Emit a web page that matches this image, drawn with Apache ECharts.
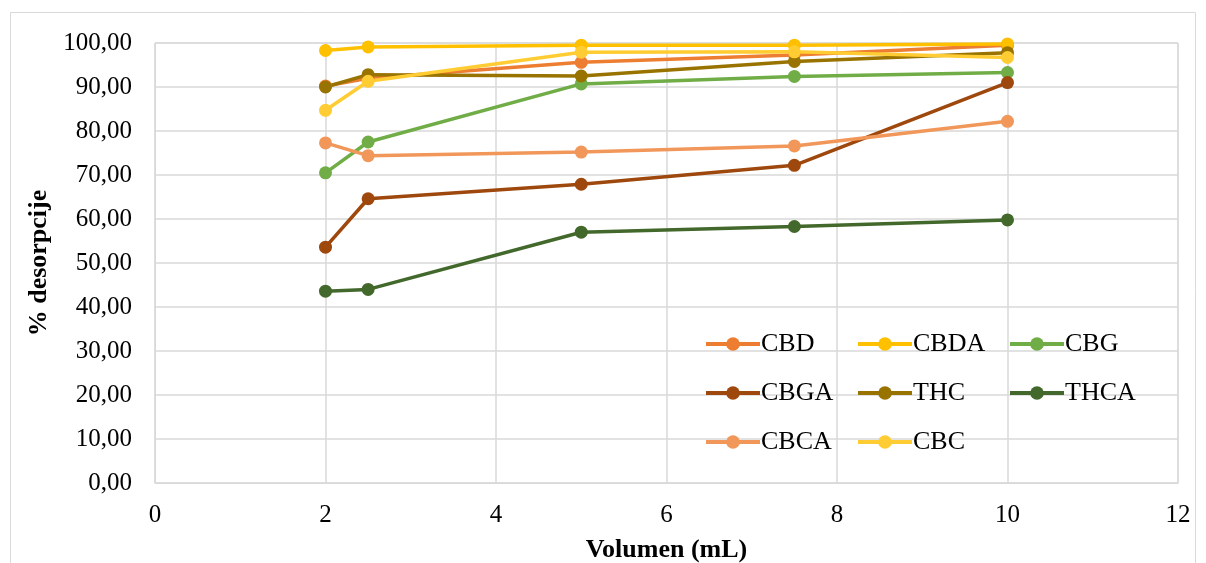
<!DOCTYPE html>
<html><head><meta charset="utf-8">
<script src="https://cdn.jsdelivr.net/npm/echarts@6/dist/echarts.min.js"></script>
<style>html,body{margin:0;padding:0;background:#fff}#c{width:1206px;height:563px}</style>
</head><body><div id="c"></div>
<script>
const xValues = [2, 2.5, 5, 7.5, 10];
const seriesNames = ['CBD','CBDA','CBG','CBGA','THC','THCA','CBCA','CBC'];
const CBD  = [90.2, 92.0, 95.6, 97.3, 99.5];
const CBDA = [98.3, 99.1, 99.5, 99.5, 99.8];
const CBG  = [70.5, 77.5, 90.7, 92.4, 93.3];
const CBGA = [53.6, 64.6, 67.9, 72.2, 91.0];
const THC  = [90.0, 92.8, 92.5, 95.8, 97.8];
const THCA = [43.6, 44.0, 57.0, 58.3, 59.8];
const CBCA = [77.3, 74.4, 75.2, 76.6, 82.2];
const CBC  = [84.7, 91.3, 97.9, 98.0, 96.7];
const seriesValues = [CBD, CBDA, CBG, CBGA, THC, THCA, CBCA, CBC];
const colors = ['#ED7D31','#FFC000','#70AD47','#9E480E','#997300','#43682B','#F1975A','#FFCD33'];

const font = '"Liberation Serif","Times New Roman",serif';
const chart = echarts.init(document.getElementById('c'));
const legendCols = [['CBD','CBGA','CBCA'],['CBDA','THC','CBC'],['CBG','THCA']];
const legendLeft = [704, 856, 1008];
chart.setOption({
  animation: false,
  graphic: [{type:'rect', shape:{x:10.5,y:12.5,width:1185,height:560}, style:{fill:'none', stroke:'#d9d9d9', lineWidth:1}}],
  grid: {left:155, top:43, right:28, bottom:80, show:true, borderColor:'#d9d9d9', borderWidth:1, outerBoundsMode:'none', containLabel:false},
  legend: legendCols.map((d,i)=>({
    data: d, orient:'vertical', left: legendLeft[i], top: 331, itemGap: 23,
    itemWidth: 54, itemHeight: 17, padding: 0,
    lineStyle: {width: 4},
    textStyle: {fontFamily: font, fontSize: 26, color:'#000', padding:[0,0,0,-4]}
  })),
  xAxis: {
    type:'value', min:0, max:12, interval:2,
    name:'Volumen (mL)', nameLocation:'middle', nameGap:54,
    nameTextStyle:{fontFamily:font, fontSize:26, fontWeight:'bold', color:'#000'},
    axisLine:{show:true, lineStyle:{color:'#d9d9d9'}}, axisTick:{show:false},
    axisLabel:{fontFamily:font, fontSize:25, color:'#000', margin:20},
    splitLine:{show:true, lineStyle:{color:'#d9d9d9', width:1.5}}
  },
  yAxis: {
    type:'value', min:0, max:100, interval:10,
    name:'% desorpcije', nameLocation:'middle', nameGap:102,
    nameTextStyle:{fontFamily:font, fontSize:26, fontWeight:'bold', color:'#000'},
    axisLine:{show:true, lineStyle:{color:'#d9d9d9'}}, axisTick:{show:false},
    axisLabel:{fontFamily:font, fontSize:25, color:'#000', margin:23,
      formatter: v => v.toFixed(2).replace('.', ',')},
    splitLine:{show:true, lineStyle:{color:'#d9d9d9', width:1.5}}
  },
  series: seriesNames.map((n,i)=>({
    name:n, type:'line', data: xValues.map((x,j)=>[x, seriesValues[i][j]]),
    symbol:'circle', symbolSize:13, color: colors[i],
    lineStyle:{width:3.5, color: colors[i]}, itemStyle:{color: colors[i]}
  }))
});
</script></body></html>
